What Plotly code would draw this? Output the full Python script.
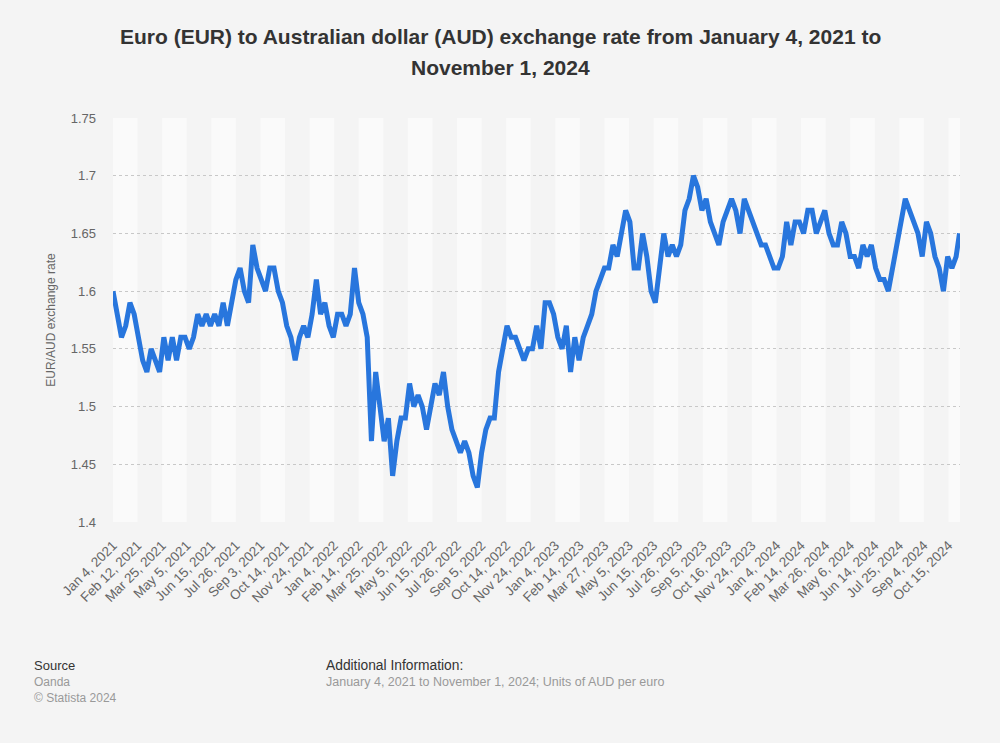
import pandas as pd
import plotly.graph_objects as go

# ---------------- data ----------------
title_line1 = "Euro (EUR) to Australian dollar (AUD) exchange rate from January 4, 2021 to"
title_line2 = "November 1, 2024"
y_title = "EUR/AUD exchange rate"

start_date = "2021-01-04"
end_date = "2024-11-01"

# EUR/AUD rate read every 5th business day (weekly), plus the final day (Nov 1, 2024)
rates = [
    1.60, 1.58, 1.56, 1.57, 1.59, 1.58, 1.56, 1.54, 1.53, 1.55,
    1.54, 1.53, 1.56, 1.54, 1.56, 1.54, 1.56, 1.56, 1.55, 1.56,
    1.58, 1.57, 1.58, 1.57, 1.58, 1.57, 1.59, 1.57, 1.59, 1.61,
    1.62, 1.60, 1.59, 1.64, 1.62, 1.61, 1.60, 1.62, 1.62, 1.60,
    1.59, 1.57, 1.56, 1.54, 1.56, 1.57, 1.56, 1.58, 1.61, 1.58,
    1.59, 1.57, 1.56, 1.58, 1.58, 1.57, 1.58, 1.62, 1.59, 1.58,
    1.56, 1.47, 1.53, 1.50, 1.47, 1.49, 1.44, 1.47, 1.49, 1.49,
    1.52, 1.50, 1.51, 1.50, 1.48, 1.50, 1.52, 1.51, 1.53, 1.50,
    1.48, 1.47, 1.46, 1.47, 1.46, 1.44, 1.43, 1.46, 1.48, 1.49,
    1.49, 1.53, 1.55, 1.57, 1.56, 1.56, 1.55, 1.54, 1.55, 1.55,
    1.57, 1.55, 1.59, 1.59, 1.58, 1.56, 1.55, 1.57, 1.53, 1.56,
    1.54, 1.56, 1.57, 1.58, 1.60, 1.61, 1.62, 1.62, 1.64, 1.63,
    1.65, 1.67, 1.66, 1.62, 1.62, 1.65, 1.63, 1.60, 1.59, 1.62,
    1.65, 1.63, 1.64, 1.63, 1.64, 1.67, 1.68, 1.70, 1.69, 1.67,
    1.68, 1.66, 1.65, 1.64, 1.66, 1.67, 1.68, 1.67, 1.65, 1.68,
    1.67, 1.66, 1.65, 1.64, 1.64, 1.63, 1.62, 1.62, 1.63, 1.66,
    1.64, 1.66, 1.66, 1.65, 1.67, 1.67, 1.65, 1.66, 1.67, 1.65,
    1.64, 1.64, 1.66, 1.65, 1.63, 1.63, 1.62, 1.64, 1.63, 1.64,
    1.62, 1.61, 1.61, 1.60, 1.62, 1.64, 1.66, 1.68, 1.67, 1.66,
    1.65, 1.63, 1.66, 1.65, 1.63, 1.62, 1.60, 1.63, 1.62, 1.63,
    1.65,
]

tick_labels = [
    "Jan 4, 2021", "Feb 12, 2021", "Mar 25, 2021", "May 5, 2021", "Jun 15, 2021",
    "Jul 26, 2021", "Sep 3, 2021", "Oct 14, 2021", "Nov 24, 2021", "Jan 4, 2022",
    "Feb 14, 2022", "Mar 25, 2022", "May 5, 2022", "Jun 15, 2022", "Jul 26, 2022",
    "Sep 5, 2022", "Oct 14, 2022", "Nov 24, 2022", "Jan 4, 2023", "Feb 14, 2023",
    "Mar 27, 2023", "May 5, 2023", "Jun 15, 2023", "Jul 26, 2023", "Sep 5, 2023",
    "Oct 16, 2023", "Nov 24, 2023", "Jan 4, 2024", "Feb 14, 2024", "Mar 26, 2024",
    "May 6, 2024", "Jun 14, 2024", "Jul 25, 2024", "Sep 4, 2024", "Oct 15, 2024",
]

y_ticks = [1.4, 1.45, 1.5, 1.55, 1.6, 1.65, 1.7, 1.75]
y_tick_labels = ["1.4", "1.45", "1.5", "1.55", "1.6", "1.65", "1.7", "1.75"]

source_lines = ["Oanda", "© Statista 2024"]
additional_info = "January 4, 2021 to November 1, 2024; Units of AUD per euro"

# ---------------- build ----------------
bdays = pd.bdate_range(start_date, end_date)
sample_dates = list(bdays[::5]) + [bdays[-1]]
assert len(sample_dates) == len(rates)
tick_dates = list(pd.to_datetime(tick_labels, format="%b %d, %Y"))

FONT = "Liberation Sans, Arial, sans-serif"
BG = "#f4f4f4"
BAND = "#fafafa"
W, H = 1000, 743
L, R, T, B = 113, 40, 118, 221
pw, ph = W - L - R, H - T - B

def px(xp):
    return (xp - L) / pw

def py(yp):
    return (H - B - yp) / ph

fig = go.Figure()
fig.add_trace(go.Scatter(
    x=sample_dates, y=rates, mode="lines",
    line=dict(color="#2876dd", width=5),
    hoverinfo="skip", showlegend=False,
))

x_end = pd.Timestamp(end_date) + pd.Timedelta(hours=14)
x_start = pd.Timestamp(start_date)
edges = tick_dates + [x_end]
for k in range(0, len(tick_dates), 2):
    fig.add_shape(type="rect", xref="x", yref="paper",
                  x0=edges[k], x1=edges[k + 1], y0=0, y1=1,
                  fillcolor=BAND, line=dict(width=0), layer="below")

fig.update_layout(
    width=W, height=H,
    margin=dict(l=L, r=R, t=T, b=B),
    paper_bgcolor=BG, plot_bgcolor=BG,
    font=dict(family=FONT, color="#666666", size=13),
    showlegend=False,
)
fig.update_xaxes(
    type="date",
    rangebreaks=[dict(bounds=["sat", "mon"])],
    range=[x_start, x_end],
    tickmode="array", tickvals=tick_dates, ticktext=tick_labels,
    tickangle=-45, tickfont=dict(size=13.5, color="#666666"),
    showgrid=False, zeroline=False, showline=False, ticks="",
    ticklabelstandoff=12,
)
fig.update_yaxes(
    range=[1.4, 1.75],
    tickmode="array", tickvals=y_ticks, ticktext=y_tick_labels,
    tickfont=dict(size=13, color="#666666"),
    showgrid=True, gridcolor="#c8c8c8", gridwidth=1, griddash="dot",
    zeroline=False, showline=False, ticks="", ticklabelstandoff=16,
    title=dict(text=y_title, font=dict(size=12, color="#666666"), standoff=12),
)

ann = []
ann.append(dict(text=f"<b>{title_line1}</b>", x=px(500), y=py(36), xref="paper", yref="paper",
                xanchor="center", yanchor="middle", showarrow=False,
                font=dict(size=21, color="#333333", family=FONT)))
ann.append(dict(text=f"<b>{title_line2}</b>", x=px(500), y=py(67), xref="paper", yref="paper",
                xanchor="center", yanchor="middle", showarrow=False,
                font=dict(size=21, color="#333333", family=FONT)))
ann.append(dict(text="Source", x=px(32), y=py(665), xref="paper", yref="paper",
                xanchor="left", yanchor="middle", showarrow=False,
                font=dict(size=13, color="#333333", family=FONT)))
for i, s in enumerate(source_lines):
    ann.append(dict(text=s, x=px(32), y=py(682 + 16 * i), xref="paper", yref="paper",
                    xanchor="left", yanchor="middle", showarrow=False,
                    font=dict(size=12, color="#999999", family=FONT)))
ann.append(dict(text="Additional Information:", x=px(324), y=py(665), xref="paper", yref="paper",
                xanchor="left", yanchor="middle", showarrow=False,
                font=dict(size=13.8, color="#333333", family=FONT)))
ann.append(dict(text=additional_info, x=px(324), y=py(682), xref="paper", yref="paper",
                xanchor="left", yanchor="middle", showarrow=False,
                font=dict(size=12.5, color="#999999", family=FONT)))
fig.update_layout(annotations=ann)

fig.write_html(
    "out.html",
    config={"displayModeBar": False},
    post_script="document.body.style.margin='0';document.body.style.background='#f4f4f4';",
)
